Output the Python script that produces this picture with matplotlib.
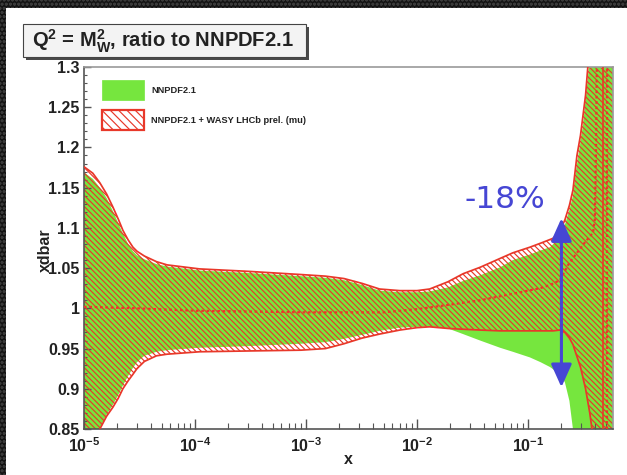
import numpy as np
import matplotlib
matplotlib.use("Agg")
import matplotlib.pyplot as plt
from matplotlib.patches import Rectangle, Patch
from matplotlib.ticker import LogLocator, NullFormatter, MultipleLocator

# ---------------- data ----------------
x_green = [1.0e-5, 1.2e-5, 1.39e-5, 1.6e-5, 1.82e-5, 2.05e-5, 2.24e-5, 2.5e-5, 2.76e-5,
           3.0e-5, 3.5e-5, 4.5e-5, 5.6e-5, 1.1e-4, 3.0e-4, 9.0e-4, 1.5e-3, 2.2e-3,
           3.2e-3, 4.6e-3, 7.0e-3, 1.0e-2, 1.3e-2, 1.9e-2, 2.6e-2, 3.7e-2, 5.6e-2,
           7.3e-2, 0.104, 0.13, 0.158, 0.194, 0.215, 0.236, 0.254, 0.27, 0.29, 0.313,
           0.347, 0.377, 0.41, 0.583]
green_lo = [0.820, 0.836, 0.851, 0.868, 0.880, 0.893, 0.904, 0.916, 0.926,
            0.933, 0.941, 0.946, 0.948, 0.951, 0.953, 0.956, 0.958, 0.962,
            0.967, 0.972, 0.976, 0.977, 0.977, 0.975, 0.968, 0.960, 0.951,
            0.946, 0.939, 0.933, 0.927, 0.918, 0.908, 0.885, 0.850, 0.780, 0.700, 0.600,
            0.500, 0.500, 0.500, 0.500]
green_hi = [1.169, 1.161, 1.150, 1.137, 1.121, 1.105, 1.093, 1.080, 1.071,
            1.066, 1.061, 1.055, 1.052, 1.047, 1.044, 1.040, 1.038, 1.035,
            1.029, 1.022, 1.020, 1.020, 1.021, 1.026, 1.034, 1.041, 1.051,
            1.060, 1.067, 1.072, 1.076, 1.088, 1.104, 1.122, 1.140, 1.170, 1.198, 1.228,
            1.288, 1.350, 1.450, 1.600]

x_red = [1.0e-5, 1.2e-5, 1.39e-5, 1.6e-5, 1.82e-5, 2.05e-5, 2.24e-5, 2.5e-5, 2.76e-5,
         3.0e-5, 3.5e-5, 4.5e-5, 5.6e-5, 1.1e-4, 3.0e-4, 9.0e-4, 1.5e-3, 2.2e-3,
         3.2e-3, 4.6e-3, 7.0e-3, 1.0e-2, 1.3e-2, 1.9e-2, 2.6e-2, 3.7e-2, 5.6e-2,
         7.3e-2, 0.104, 0.13, 0.168, 0.194, 0.215, 0.236, 0.254, 0.276, 0.297, 0.33,
         0.36, 0.377, 0.41, 0.44, 0.583]
red_lo = [0.820, 0.835, 0.850, 0.866, 0.877, 0.889, 0.900, 0.910, 0.918,
          0.925, 0.934, 0.941, 0.943, 0.946, 0.947, 0.948, 0.950, 0.956,
          0.963, 0.968, 0.973, 0.976, 0.977, 0.975, 0.974, 0.973, 0.972,
          0.972, 0.972, 0.972, 0.972, 0.973, 0.970, 0.963, 0.955, 0.940, 0.927, 0.900,
          0.870, 0.850, 0.800, 0.750, 0.500]
red_hi = [1.176, 1.168, 1.156, 1.142, 1.126, 1.110, 1.097, 1.085, 1.076,
          1.071, 1.065, 1.058, 1.054, 1.049, 1.046, 1.042, 1.040, 1.037,
          1.031, 1.024, 1.022, 1.022, 1.024, 1.033, 1.043, 1.051, 1.062,
          1.069, 1.076, 1.081, 1.087, 1.096, 1.110, 1.128, 1.147, 1.190, 1.215, 1.265,
          1.330, 1.360, 1.450, 1.500, 1.600]

x_red_mid = [1.0e-5, 3.0e-5, 1.0e-4, 1.0e-3, 5.0e-3, 1.0e-2, 1.86e-2, 3.7e-2, 5.6e-2,
             0.1, 0.128, 0.158, 0.194, 0.23, 0.276, 0.33, 0.385, 0.40, 0.41, 0.42]
red_mid = [1.002, 1.000, 0.997, 0.995, 0.995, 0.999, 1.004, 1.010, 1.015,
           1.022, 1.025, 1.029, 1.035, 1.054, 1.069, 1.083, 1.094, 1.110, 1.200, 1.350]

pole_solid_x = [0.474]
pole_dotted_x = [0.515]

arrow_x = 0.2
arrow_y = [0.902, 1.112]
arrow_text = "-18%"
arrow_text_pos = (0.062, 1.135)

series_labels = ["NNPDF2.1", "NNPDF2.1 + WASY LHCb prel. (mu)"]
title_text = "$Q^{2}$ = $M_{W}^{2}$, ratio to NNPDF2.1"
x_label = "x"
y_label = "xdbar"
x_limits = [1e-5, 0.583]
y_limits = [0.85, 1.3]
y_ticks = [0.85, 0.9, 0.95, 1.0, 1.05, 1.1, 1.15, 1.2, 1.25, 1.3]
y_tick_labels = ["0.85", "0.9", "0.95", "1", "1.05", "1.1", "1.15", "1.2", "1.25", "1.3"]

# ---------------- style ----------------
GREEN = "#76e63e"
RED = "#e8382a"
BLUE = "#4646d4"
TXT = "#222222"
HATCH = "\\" * 6

plt.rcParams["font.family"] = ["Liberation Sans", "DejaVu Sans"]
plt.rcParams["font.weight"] = "bold"
plt.rcParams["mathtext.fontset"] = "custom"
plt.rcParams["mathtext.rm"] = "Liberation Sans:bold"
plt.rcParams["mathtext.it"] = "Liberation Sans:bold"
plt.rcParams["mathtext.bf"] = "Liberation Sans:bold"
plt.rcParams["mathtext.default"] = "rm"
plt.rcParams["hatch.linewidth"] = 0.85
plt.rcParams["hatch.color"] = RED

W, H = 627, 475
fig = plt.figure(figsize=(W / 100, H / 100), dpi=100)
fig.patch.set_facecolor("#1b1b1b")

# dark textured border + white panel
fig.patches.append(Rectangle((0, 0), 1, 1, transform=fig.transFigure,
                             facecolor="#141414", edgecolor="#3a3a3a", hatch="oooo",
                             linewidth=0, zorder=-3))
fig.patches.append(Rectangle((6 / W, 0), 1 - 6 / W, 1 - 8 / H, transform=fig.transFigure,
                             facecolor="white", edgecolor="none", zorder=-2))

ax = fig.add_axes([84 / W, (H - 429) / H, (613 - 84) / W, (429 - 67) / H])
ax.set_xscale("log")
ax.set_xlim(*x_limits)
ax.set_ylim(*y_limits)

# green band
ax.fill_between(x_green, green_lo, green_hi, facecolor=GREEN, edgecolor="none",
                linewidth=0, zorder=1)
# red hatched band
ax.fill_between(x_red, red_lo, red_hi, facecolor="none", edgecolor=RED,
                hatch=HATCH, linewidth=0, zorder=2)
ax.plot(x_red, red_lo, color=RED, lw=1.25, zorder=3)
ax.plot(x_red, red_hi, color=RED, lw=1.25, zorder=3)
ax.plot(x_red_mid, red_mid, color=RED, lw=1.6, linestyle=(0, (1.2, 1.2)), zorder=3)
for xv in pole_solid_x:
    ax.axvline(xv, color=RED, lw=1.2, zorder=3)
for xv in pole_dotted_x:
    ax.axvline(xv, color=RED, lw=1.6, linestyle=(0, (1.2, 1.2)), zorder=3)

# arrow + label
ax.annotate("", xy=(arrow_x, arrow_y[1]), xytext=(arrow_x, arrow_y[0]),
            arrowprops=dict(arrowstyle="<|-|>,head_length=1.0,head_width=0.45",
                            color=BLUE, lw=2.2, mutation_scale=14,
                            shrinkA=0, shrinkB=0), zorder=5)
ax.text(arrow_text_pos[0], arrow_text_pos[1], arrow_text, color=BLUE,
        fontsize=22.5, fontweight="normal", family=["DejaVu Sans"],
        ha="center", va="center", zorder=5)

# axes styling
ax.set_yticks(y_ticks)
ax.set_yticklabels(y_tick_labels)
ax.yaxis.set_minor_locator(MultipleLocator(0.01))
ax.xaxis.set_major_locator(LogLocator(base=10, numticks=20))
ax.xaxis.set_minor_locator(LogLocator(base=10, subs=np.arange(2, 10), numticks=50))
ax.xaxis.set_minor_formatter(NullFormatter())
ax.tick_params(axis="both", which="both", direction="in", colors="#555555",
               labelcolor=TXT, labelsize=11.5, top=False, right=False)
ax.tick_params(axis="y", which="major", length=5, width=1, pad=3)
ax.tick_params(axis="y", which="minor", length=2.5, width=0.8)
ax.tick_params(axis="x", which="major", length=7.5, width=1, pad=5)
ax.tick_params(axis="x", which="minor", length=4.2, width=0.8)
for s in ["left", "bottom"]:
    ax.spines[s].set_color("#555555")
    ax.spines[s].set_linewidth(1.2)
for s in ["top", "right"]:
    ax.spines[s].set_color("#9a9a9a")
    ax.spines[s].set_linewidth(1.2)
ax.set_facecolor("white")

# legend
handles = [Patch(facecolor=GREEN, edgecolor=GREEN, linewidth=0.5),
           Patch(facecolor="white", edgecolor=RED, hatch="\\" * 4, linewidth=1.6)]
leg = ax.legend(handles, series_labels, loc="upper left", frameon=False,
                prop=dict(family="Liberation Sans", weight="bold", size=6.7),
                handlelength=4.5, handleheight=3.0, labelspacing=1.05,
                handletextpad=0.8, borderaxespad=0.0,
                bbox_to_anchor=(14 / (613 - 84), 1 - 9 / (429 - 67)))
for t in leg.get_texts():
    t.set_color(TXT)

# axis titles
fig.text(45 / W, 1 - 250 / H, y_label, rotation=90, ha="center", va="center",
         fontsize=11.5, fontweight="bold", color=TXT)
fig.text(348 / W, 1 - 460 / H, x_label, ha="center", va="center",
         fontsize=11.5, fontweight="bold", color=TXT)

# title box with shadow
fig.patches.append(Rectangle((26 / W, 1 - 60 / H), (306 - 23) / W, (57 - 24) / H,
                             transform=fig.transFigure, facecolor="#4a4a4a",
                             edgecolor="none", zorder=4))
fig.patches.append(Rectangle((23 / W, 1 - 57 / H), (306 - 23) / W, (57 - 24) / H,
                             transform=fig.transFigure, facecolor="#f3f3f3",
                             edgecolor="#444444", linewidth=0.8, zorder=5))
fig.text(163 / W, 1 - 41 / H, title_text, ha="center", va="center",
         fontsize=14.5, fontweight="bold", color=TXT, zorder=6)

fig.savefig("out.png", dpi=100, facecolor=fig.get_facecolor())
